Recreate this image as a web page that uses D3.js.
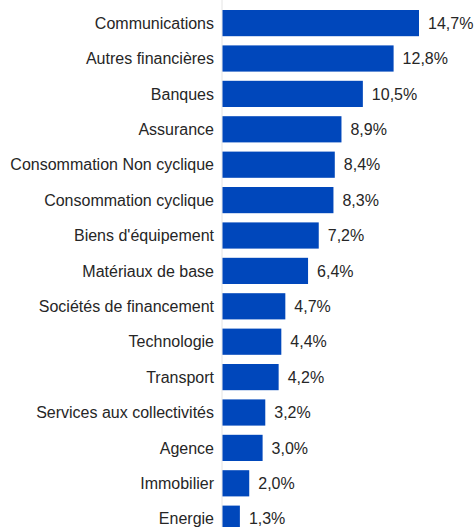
<!DOCTYPE html>
<html>
<head>
<meta charset="utf-8">
<script src="https://cdn.jsdelivr.net/npm/d3@7"></script>
<style>
  body { margin: 0; background: #fff; }
  text { font-family: "Liberation Sans", Arial, sans-serif; fill: #262626; }
</style>
</head>
<body>
<svg id="chart" width="475" height="527"></svg>
<script>
const categories = ["Communications", "Autres financières", "Banques", "Assurance",
  "Consommation Non cyclique", "Consommation cyclique", "Biens d'équipement",
  "Matériaux de base", "Sociétés de financement", "Technologie", "Transport",
  "Services aux collectivités", "Agence", "Immobilier", "Energie"];
const values = [14.7, 12.8, 10.5, 8.9, 8.4, 8.3, 7.2, 6.4, 4.7, 4.4, 4.2, 3.2, 3.0, 2.0, 1.3];

const W = 475, H = 527;
const LEFT = 222.5;
const svg = d3.select("#chart");

// band scale: first bar top ~10, pitch ~35.4
const y = d3.scaleBand()
  .domain(categories)
  .range([5.4, 5.4 + 35.4 * categories.length])
  .paddingInner(0.26)
  .paddingOuter(0.13);

const x = d3.scaleLinear()
  .domain([0, 14.7])
  .range([LEFT, 419]);

// faint baseline
svg.append("line")
  .attr("x1", LEFT - 0.5).attr("x2", LEFT - 0.5)
  .attr("y1", 0).attr("y2", H)
  .attr("stroke", "#e4e4e4").attr("stroke-width", 1);

svg.selectAll("rect.bar")
  .data(categories)
  .enter().append("rect")
  .attr("class", "bar")
  .attr("x", x(0))
  .attr("y", d => y(d))
  .attr("width", (d, i) => x(values[i]) - x(0))
  .attr("height", y.bandwidth())
  .attr("fill", "#0047bb");

svg.selectAll("text.cat")
  .data(categories)
  .enter().append("text")
  .attr("class", "cat")
  .attr("x", 214)
  .attr("y", d => y(d) + y.bandwidth() / 2)
  .attr("dy", "0.35em")
  .attr("text-anchor", "end")
  .style("font-size", "16px")
  .text(d => d);

const fmt = v => v.toFixed(1).replace(".", ",") + "%";

svg.selectAll("text.val")
  .data(categories)
  .enter().append("text")
  .attr("class", "val")
  .attr("x", (d, i) => x(values[i]) + 9)
  .attr("y", d => y(d) + y.bandwidth() / 2)
  .attr("dy", "0.35em")
  .style("font-size", "16px")
  .text((d, i) => fmt(values[i]));
</script>
</body>
</html>
